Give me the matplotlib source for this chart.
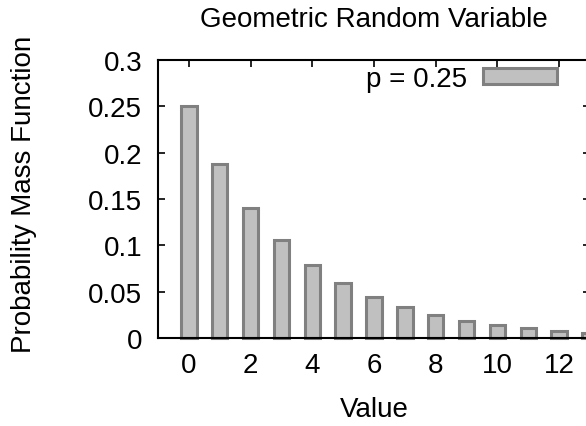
import matplotlib
matplotlib.use("Agg")
from matplotlib import pyplot as plt

# valores (pmf geometrica, p = 0.25)
valores = [0, 1, 2, 3, 4, 5, 6, 7, 8, 9, 10, 11, 12, 13]
pmf = [0.25, 0.1875, 0.1406, 0.1055, 0.0791, 0.0593, 0.0445,
       0.0334, 0.0250, 0.0188, 0.0141, 0.0106, 0.0079, 0.0059]
xticks = [0, 2, 4, 6, 8, 10, 12]
yticks = [0, 0.05, 0.1, 0.15, 0.2, 0.25, 0.3]
ytick_labels = ["0", "0.05", "0.1", "0.15", "0.2", "0.25", "0.3"]

fs = 20
plt.rcParams['font.family'] = ['Liberation Sans', 'DejaVu Sans']
plt.rcParams['font.size'] = fs

W, H = 586, 427
fig = plt.figure(figsize=(W/100, H/100), dpi=100)
# eixo: esquerda 158, direita 590 (fora da imagem), topo 61, base 339 (pixels)
ax = fig.add_axes([158/W, 1 - 339/H, 432/W, 278/H])

ax.bar(valores, pmf, width=0.5, color='#c0c0c0', edgecolor='#808080',
       linewidth=2.2, label='p = 0.25', zorder=2, clip_on=False)

ax.set_xlim(-1, 13)
ax.set_ylim(0, 0.3)
ax.set_xticks(xticks)
ax.set_yticks(yticks)
ax.set_yticklabels(ytick_labels)
ax.tick_params(direction='in', length=5, width=1.2, top=True, right=True,
               labelsize=fs)
ax.tick_params(axis='y', pad=11.5)
ax.tick_params(axis='x', pad=10)
for s in ax.spines.values():
    s.set_linewidth(1.5)

ax.set_title('Geometric Random Variable', fontsize=fs, pad=24.5)
ax.set_xlabel('Value', fontsize=fs, va='center')
ax.xaxis.set_label_coords(0.5, -(410 - 339)/278)
ax.set_ylabel('Probability Mass Function', fontsize=fs, va='center')
ax.yaxis.set_label_coords((24 - 158)/432, (339 - 194)/278)

ax.legend(loc='upper right', bbox_to_anchor=(557/W, 1 - 67/H),
          bbox_transform=fig.transFigure, frameon=False, markerfirst=False,
          handlelength=2.65, handleheight=0.47, handletextpad=0.6,
          borderpad=0, borderaxespad=0, fontsize=fs)

fig.savefig('out.png', dpi=100)
